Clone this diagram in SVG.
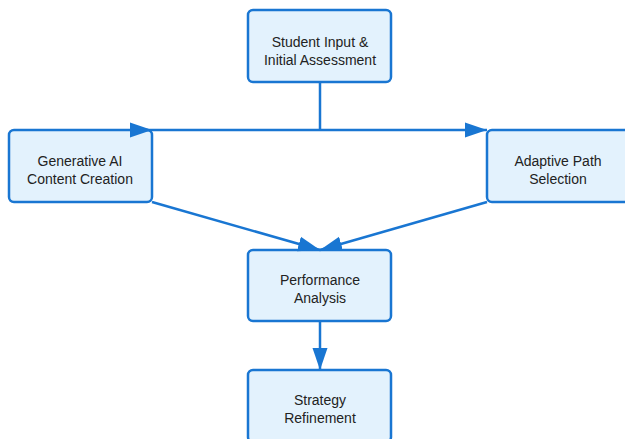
<svg xmlns="http://www.w3.org/2000/svg" width="625" height="439" viewBox="0 0 625 439">
<style>
.box{fill:#E3F2FD;stroke:#1976D2;stroke-width:2.5}
.lbl{font-family:"Liberation Sans",Arial,sans-serif;font-size:14px;fill:#222;text-anchor:middle}
.con{fill:none;stroke:#1976D2;stroke-width:2.5}
</style>
<defs>
<marker id="ah" markerUnits="userSpaceOnUse" markerWidth="22" markerHeight="16" refX="22" refY="8" orient="auto">
<path d="M0,0.5 L22,8 L0,15.5 z" fill="#1976D2"/>
</marker>
</defs>
<rect width="625" height="439" fill="#fff"/>
<g id="student">
<rect class="box" x="248" y="10" width="143" height="72" rx="5"/>
<text class="lbl" x="320" y="47">Student Input &amp;</text>
<text class="lbl" x="320" y="65">Initial Assessment</text>
</g>
<g id="generative">
<rect class="box" x="9" y="130" width="143" height="72" rx="5"/>
<text class="lbl" x="80" y="166">Generative AI</text>
<text class="lbl" x="80" y="184">Content Creation</text>
</g>
<g id="adaptive">
<rect class="box" x="487" y="130" width="143" height="72" rx="5"/>
<text class="lbl" x="558" y="166">Adaptive Path</text>
<text class="lbl" x="558" y="184">Selection</text>
</g>
<g id="performance">
<rect class="box" x="248" y="250" width="143" height="71" rx="5"/>
<text class="lbl" x="320" y="285">Performance</text>
<text class="lbl" x="320" y="303">Analysis</text>
</g>
<g id="strategy">
<rect class="box" x="248" y="370" width="143" height="72" rx="5"/>
<text class="lbl" x="320" y="405">Strategy</text>
<text class="lbl" x="320" y="423">Refinement</text>
</g>
<g id="connectors">
<path class="con" d="M320,82 V130"/>
<path class="con" d="M130,130 H152" marker-end="url(#ah)"/>
<path class="con" d="M152,130 H487" marker-end="url(#ah)"/>
<path class="con" d="M152,202 L320,250" marker-end="url(#ah)"/>
<path class="con" d="M487,202 L320,250" marker-end="url(#ah)"/>
<path class="con" d="M320,321 V370" marker-end="url(#ah)"/>
</g>
</svg>
